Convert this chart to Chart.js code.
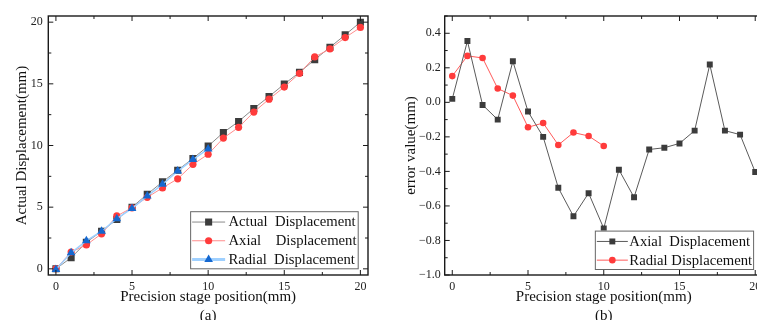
<!DOCTYPE html>
<html>
<head>
<meta charset="utf-8">
<script src="https://cdn.jsdelivr.net/npm/chart.js@4.4.1/dist/chart.umd.min.js"></script>
<style>
  html, body { margin: 0; padding: 0; background: #fff; width: 757px; height: 320px; overflow: hidden; }
  #wrap { position: relative; width: 757px; height: 320px; overflow: hidden; }
  #chartA { position: absolute; left: 0; top: 0; }
  #chartB { position: absolute; left: 378px; top: 0; }
</style>
</head>
<body>
<div id="wrap">
  <canvas id="chartA" width="378" height="340"></canvas>
  <canvas id="chartB" width="389" height="340"></canvas>
</div>
<script>
// stage positions (mm)
const stagePos = [0, 1, 2, 3, 4, 5, 6, 7, 8, 9, 10, 11, 12, 13, 14, 15, 16, 17, 18, 19, 20];

// (a) displacement readings
const actualDisp = [0, 0.9, 2.15, 3.05, 4.0, 5.0, 6.05, 7.05, 8.0, 8.95, 9.95, 11.05, 11.95, 13.0, 13.97, 14.98, 15.93, 16.96, 17.96, 18.97, 20.0];
const axialDisp  = [0, 1.36, 1.94, 2.84, 4.29, 4.95, 5.8, 6.56, 7.3, 8.47, 9.29, 10.6, 11.47, 12.71, 13.76, 14.74, 15.85, 17.18, 17.83, 18.75, 19.57];
const radialDisp = [-0.05, 1.3, 2.27, 3.05, 4.07, 4.9, 5.9, 6.85, 7.93, 8.86, 9.72];

// (b) error values
const axialErr  = [0.02, 0.355, -0.015, -0.10, 0.238, -0.053, -0.20, -0.495, -0.66, -0.526, -0.73, -0.39, -0.55, -0.273, -0.263, -0.238, -0.164, 0.219, -0.164, -0.187, -0.404];
const radialErr = [0.152, 0.269, 0.257, 0.08, 0.039, -0.144, -0.12, -0.247, -0.175, -0.195, -0.253];

// tick labels
const posTicks  = [0, 5, 10, 15, 20];
const dispTicks = [0, 5, 10, 15, 20];
const errTicks  = [-1.0, -0.8, -0.6, -0.4, -0.2, 0.0, 0.2, 0.4];

const pts = ys => ys.map((v, i) => ({ x: stagePos[i], y: v }));

Chart.defaults.font.family = '"Liberation Serif", "Times New Roman", serif';
Chart.defaults.color = '#222';

// frame + inward major/minor ticks on all four sides
const frameTicks = {
  id: 'frameTicks',
  afterDatasetsDraw(chart, args, o) {
    const { ctx, chartArea: a } = chart;
    ctx.save();
    ctx.strokeStyle = '#1a1a1a';
    ctx.lineWidth = 1;
    const mark = (scale, step, major, horiz) => {
      const n0 = Math.ceil(scale.min / step - 1e-6), n1 = Math.floor(scale.max / step + 1e-6);
      for (let n = n0; n <= n1; n++) {
        const v = n * step;
        const r = v / major;
        const len = Math.abs(r - Math.round(r)) < 1e-6 ? 5 : 3;
        const p = scale.getPixelForValue(v);
        ctx.beginPath();
        if (horiz) {
          ctx.moveTo(p, a.bottom); ctx.lineTo(p, a.bottom - len);
          ctx.moveTo(p, a.top); ctx.lineTo(p, a.top + len);
        } else {
          ctx.moveTo(a.left, p); ctx.lineTo(a.left + len, p);
          ctx.moveTo(a.right, p); ctx.lineTo(a.right - len, p);
        }
        ctx.stroke();
      }
    };
    mark(chart.scales.x, o.xMinor, o.xMajor, true);
    mark(chart.scales.y, o.yMinor, o.yMajor, false);
    ctx.lineWidth = 1.4;
    ctx.strokeRect(a.left, a.top, a.right - a.left, a.bottom - a.top);
    ctx.restore();
  }
};

function marker(ctx, style, r, x, y) {
  ctx.beginPath();
  if (style === 'rect') {
    const s = r * Math.SQRT1_2;
    ctx.rect(x - s, y - s, 2 * s, 2 * s);
  } else if (style === 'triangle') {
    ctx.moveTo(x, y - r);
    ctx.lineTo(x + r * 0.866, y + r * 0.5);
    ctx.lineTo(x - r * 0.866, y + r * 0.5);
    ctx.closePath();
  } else {
    ctx.arc(x, y, r, 0, Math.PI * 2);
  }
  ctx.fill();
}

// boxed legend in the lower right corner of the plot
const boxLegend = {
  id: 'boxLegend',
  afterDraw(chart, args, o) {
    const { ctx, chartArea: a } = chart;
    const sets = chart.data.datasets;
    ctx.save();
    ctx.font = '14.7px "Liberation Serif"';
    const tw = Math.max(...sets.map(d => ctx.measureText(d.label).width));
    const w = 2 + o.sample + o.gap + tw + o.tail;
    const h = sets.length * o.row + 1;
    const x0 = a.right - o.right - w, y0 = a.bottom - o.bottom - h;
    ctx.fillStyle = '#fff';
    ctx.fillRect(x0, y0, w, h);
    ctx.strokeStyle = '#666';
    ctx.lineWidth = 1;
    ctx.strokeRect(x0 + 0.5, y0 + 0.5, w, h);
    sets.forEach((d, i) => {
      const cy = y0 + o.row / 2 + 1.5 + i * o.row;
      ctx.strokeStyle = d.borderColor;
      ctx.lineWidth = d.legendLine || d.borderWidth;
      ctx.beginPath();
      ctx.moveTo(x0 + 2, cy);
      ctx.lineTo(x0 + 2 + o.sample, cy);
      ctx.stroke();
      ctx.fillStyle = d.pointBackgroundColor;
      marker(ctx, d.pointStyle, d.pointRadius, x0 + 2 + o.sample / 2, cy);
      ctx.fillStyle = '#111';
      ctx.textBaseline = 'middle';
      ctx.fillText(d.label, x0 + 2 + o.sample + o.gap, cy + 0.5);
    });
    ctx.restore();
  }
};

const fixTicks = vals => axis => { axis.ticks = vals.map(v => ({ value: v })); };
const fitX = h => s => { s.height = h; };
const fitY = w => s => { s.width = w; };
const noGrid = { display: false, drawTicks: false };
const titleFont = { size: 15, lineHeight: 1.25 };

// (a)
new Chart(document.getElementById('chartA'), {
  type: 'line',
  data: {
    datasets: [
      { label: 'Actual  Displacement', data: pts(actualDisp), order: 2,
        borderColor: '#8a8a8a', borderWidth: 1, pointStyle: 'rect', pointRadius: 5,
        pointBackgroundColor: '#3c3c3c', pointBorderColor: '#3c3c3c', pointBorderWidth: 0 },
      { label: 'Axial    Displacement', data: pts(axialDisp), order: 1,
        borderColor: '#ff8c8c', borderWidth: 1, pointStyle: 'circle', pointRadius: 3.6,
        pointBackgroundColor: '#ff3b3b', pointBorderColor: '#ff3b3b', pointBorderWidth: 0 },
      { label: 'Radial  Displacement', data: pts(radialDisp), order: 0,
        borderColor: '#9fd0ff', borderWidth: 1.5, legendLine: 3, pointStyle: 'triangle', pointRadius: 5,
        pointBackgroundColor: '#1568d0', pointBorderColor: '#1568d0', pointBorderWidth: 0 }
    ]
  },
  options: {
    responsive: false,
    animation: false,
    layout: { padding: { top: 16, right: 10, left: 0, bottom: 0 } },
    scales: {
      x: {
        type: 'linear', min: -0.5, max: 20.5,
        grid: noGrid, border: { display: false },
        afterBuildTicks: fixTicks(posTicks),
        afterFit: fitX(340 - 275),
        ticks: { padding: 5, font: { size: 12 }, color: '#222' },
        title: { display: true, text: ['Precision stage position(mm)', '(a)'], font: titleFont,
          color: '#111', padding: { top: 0, bottom: 14.6 } }
      },
      y: {
        type: 'linear', min: -0.5, max: 20.5,
        grid: noGrid, border: { display: false },
        afterBuildTicks: fixTicks(dispTicks),
        afterFit: fitY(48.3),
        ticks: { padding: 5.5, font: { size: 12 }, color: '#222' },
        title: { display: true, text: 'Actual Displacement(mm)', font: titleFont,
          color: '#111', padding: { top: 12.3, bottom: 0 } }
      }
    },
    plugins: {
      legend: { display: false },
      tooltip: { enabled: false },
      frameTicks: { xMinor: 2.5, xMajor: 5, yMinor: 2.5, yMajor: 5 },
      boxLegend: { sample: 33, gap: 3.3, tail: 1.2, row: 18.7, right: 10.3, bottom: 6.7 }
    }
  },
  plugins: [frameTicks, boxLegend]
});

// (b)
new Chart(document.getElementById('chartB'), {
  type: 'line',
  data: {
    datasets: [
      { label: 'Axial  Displacement', data: pts(axialErr),
        borderColor: '#5a5a5a', borderWidth: 1, pointStyle: 'rect', pointRadius: 4.2,
        pointBackgroundColor: '#3c3c3c', pointBorderColor: '#3c3c3c', pointBorderWidth: 0 },
      { label: 'Radial Displacement', data: pts(radialErr),
        borderColor: '#ff5a5a', borderWidth: 1, pointStyle: 'circle', pointRadius: 3.3,
        pointBackgroundColor: '#ff3b3b', pointBorderColor: '#ff3b3b', pointBorderWidth: 0 }
    ]
  },
  options: {
    responsive: false,
    animation: false,
    layout: { padding: { top: 16, right: 0, left: 0, bottom: 0 } },
    scales: {
      x: {
        type: 'linear', min: -0.5, max: 20.5,
        grid: noGrid, border: { display: false },
        afterBuildTicks: fixTicks(posTicks),
        afterFit: fitX(340 - 275),
        ticks: { padding: 5, font: { size: 12 }, color: '#222' },
        title: { display: true, text: ['Precision stage position(mm)', '(b)'], font: titleFont,
          color: '#111', padding: { top: 0, bottom: 14.6 } }
      },
      y: {
        type: 'linear', min: -1.0, max: 0.5,
        grid: noGrid, border: { display: false },
        afterBuildTicks: fixTicks(errTicks),
        afterFit: fitY(66.7),
        ticks: { padding: 4, font: { size: 12 }, color: '#222',
          callback: v => v.toFixed(1).replace('-', '\u2212') },
        title: { display: true, text: 'error value(mm)', font: titleFont,
          color: '#111', padding: { top: 24, bottom: 0 } }
      }
    },
    plugins: {
      legend: { display: false },
      tooltip: { enabled: false },
      frameTicks: { xMinor: 2.5, xMajor: 5, yMinor: 0.1, yMajor: 0.2 },
      boxLegend: { sample: 31, gap: 1.5, tail: 1, row: 18.7, right: 9.7, bottom: 6 }
    }
  },
  plugins: [frameTicks, boxLegend]
});
</script>
</body>
</html>
